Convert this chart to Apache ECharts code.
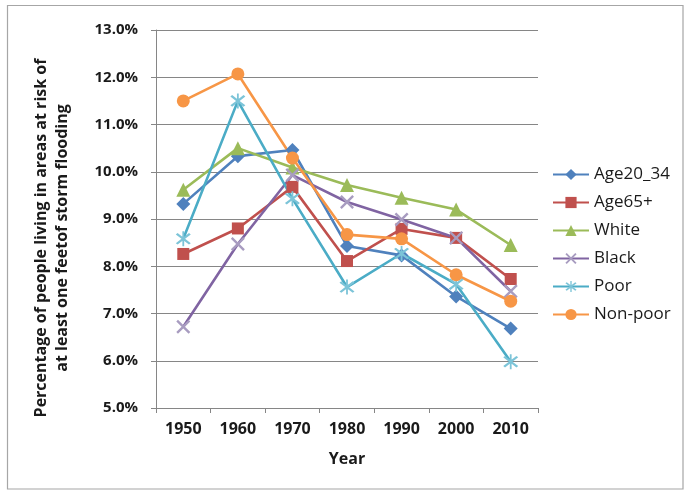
<!DOCTYPE html>
<html><head><meta charset="utf-8">
<script src="https://cdn.jsdelivr.net/npm/echarts@6/dist/echarts.min.js"></script>
<style>html,body{margin:0;padding:0;background:#fff}#c{width:689px;height:496px}</style>
</head><body><div id="c"></div>
<script>
var years = ['1950','1960','1970','1980','1990','2000','2010'];
var age20_34 = [9.32, 10.33, 10.46, 8.43, 8.23, 7.36, 6.68];
var age65 = [8.26, 8.80, 9.68, 8.11, 8.79, 8.60, 7.73];
var white = [9.62, 10.50, 10.09, 9.72, 9.45, 9.20, 8.45];
var black = [6.72, 8.47, 9.93, 9.36, 8.99, 8.60, 7.47];
var poor = [8.58, 11.50, 9.43, 7.56, 8.27, 7.62, 5.98];
var nonpoor = [11.50, 12.07, 10.29, 8.67, 8.58, 7.82, 7.26];
var yTicks = {min: 5, max: 13, step: 1};

var xPath = 'path://M0,1.2L1.2,0L5,3.8L8.8,0L10,1.2L6.2,5L10,8.8L8.8,10L5,6.2L1.2,10L0,8.8L3.8,5Z';
var starPath = 'path://M0,1.2L1.2,0L5,3.8L8.8,0L10,1.2L6.2,5L10,8.8L8.8,10L5,6.2L1.2,10L0,8.8L3.8,5Z M4.4,-1.5L5.6,-1.5L5.6,11.5L4.4,11.5Z';

function mk(name, data, color, symbol, size, symColor) {
  return {
    name: name, type: 'line', data: data, symbol: symbol, symbolSize: size,
    lineStyle: {color: color, width: 2.6},
    itemStyle: {color: symColor || color},
    emphasis: {disabled: true}
  };
}
var txt = '#1a1a1a';
var chart = echarts.init(document.getElementById('c'));
chart.setOption({
  animation: false,
  backgroundColor: '#fff',
  graphic: [{type: 'rect', shape: {x: 7.5, y: 5.5, width: 675.5, height: 483.5},
    style: {fill: 'none', stroke: '#a6a6a6', lineWidth: 1.2}, silent: true}],
  grid: {left: 156, right: 151, top: 30, bottom: 88},
  xAxis: {
    type: 'category', data: years, boundaryGap: true,
    name: 'Year', nameLocation: 'middle', nameGap: 43,
    nameTextStyle: {fontFamily: 'Open Sans', fontWeight: 'bold', fontSize: 16, color: txt},
    axisLine: {lineStyle: {color: '#868686', width: 1}},
    axisTick: {show: true, alignWithLabel: false, length: 5, lineStyle: {color: '#868686'}},
    axisLabel: {fontFamily: 'Open Sans', fontWeight: 'bold', fontSize: 16, color: txt, margin: 13}
  },
  yAxis: {
    type: 'value', min: yTicks.min, max: yTicks.max, interval: yTicks.step,
    name: 'Percentage of people living in areas at risk of\nat least one feetof storm flooding',
    nameLocation: 'middle', nameRotate: 90, nameGap: 83,
    nameTextStyle: {fontFamily: 'Open Sans', fontWeight: 'bold', fontSize: 16, color: txt, lineHeight: 21,
      padding: [0, 38, 0, 0]},
    axisLine: {show: true, lineStyle: {color: '#868686'}},
    axisTick: {show: true, length: 5, lineStyle: {color: '#868686'}},
    splitLine: {lineStyle: {color: '#868686', width: 1}},
    axisLabel: {fontFamily: 'Open Sans', fontWeight: 'bold', fontSize: 15, color: txt, margin: 18,
      formatter: function (v) { return v.toFixed(1) + '%'; }}
  },
  legend: {
    orient: 'vertical', left: 547, top: 161, itemGap: 11, itemWidth: 36, itemHeight: 14,
    textStyle: {fontFamily: 'Open Sans', fontSize: 17, lineHeight: 17, color: txt},
    data: ['Age20_34','Age65+','White','Black','Poor','Non-poor']
  },
  series: [
    mk('Age20_34', age20_34, '#4F81BD', 'diamond', 14),
    mk('Age65+', age65, '#C0504D', 'rect', 12),
    mk('White', white, '#9BBB59', 'triangle', 14),
    mk('Black', black, '#8064A2', xPath, 14, '#a89cc0'),
    mk('Poor', poor, '#4BACC6', starPath, 15, '#7cc4d8'),
    mk('Non-poor', nonpoor, '#F79646', 'circle', 13)
  ]
});
</script></body></html>
